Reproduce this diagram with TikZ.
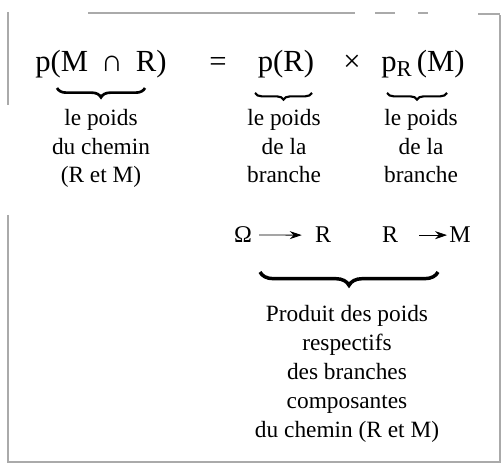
\documentclass[tikz,border=0pt]{standalone}
\usepackage{fontspec}
\setmainfont{Liberation Serif}
\usetikzlibrary{arrows.meta, positioning, decorations.pathreplacing}
\definecolor{framegray}{RGB}{170,170,170}

\begin{document}
\begin{tikzpicture}[
  x=0.75pt, y=-0.75pt,
  formula/.style={font=\fontsize{23}{27}\selectfont, inner sep=0pt, anchor=base},
  caption/.style={font=\fontsize{17.5}{21.7}\selectfont, align=center, inner sep=0pt, anchor=base},
  letter/.style={font=\fontsize{18}{22}\selectfont, inner sep=0pt, anchor=base},
  weightbrace/.style={decorate, decoration={brace, mirror, amplitude=#1}, line width=2pt},
  branch/.style={-{Stealth[length=9pt, width=6pt]}, line width=0.6pt},
  frame/.style={framegray, line width=0.8pt},
]
  \useasboundingbox (0,0) rectangle (503,466);

  % Frame
  \draw[frame] (8,12) -- (8,105);
  \draw[frame] (8,215) -- (8,462) -- (500,462) -- (500,15);
  \draw[frame] (88,13) -- (355,13);
  \draw[frame] (375,13) -- (395,13);
  \draw[frame] (418,13) -- (428,13);
  \draw[frame] (478,14) -- (500,14);

  % Formula
  \node[formula] (inter) at (101,72) {p(M \,∩\, R)};
  \node[formula] (eq) at (218,72) {=};
  \node[formula] (pr) at (286,72) {p(R)};
  \node[formula] (times) at (352,72) {×};
  \node[formula] (prm) at (423,72) {p\raisebox{-0.35ex}{\fontsize{17}{17}\selectfont R}\,(M)};

  % Braces under the terms
  \coordinate (b1l) at (57,88);  \coordinate (b1r) at (145,88);
  \coordinate (b2l) at (255,93); \coordinate (b2r) at (312,93);
  \coordinate (b3l) at (387,93); \coordinate (b3r) at (447,93);
  \draw[weightbrace=7pt] (b1l) -- (b1r);
  \draw[weightbrace=5pt, line width=1.6pt] (b2l) -- (b2r);
  \draw[weightbrace=5pt, line width=1.6pt] (b3l) -- (b3r);

  % Captions (base = last line)
  \node[caption] (cap1) at (101,183) {le poids\\du chemin\\(R et M)};
  \node[caption] (cap2) at (284,183) {le poids\\de la\\branche};
  \node[caption] (cap3) at (421,183) {le poids\\de la\\branche};

  % Branches
  \node[letter] (omega) at (243,243) {Ω};
  \node[letter] (r1) at (323,243) {R};
  \node[letter] (r2) at (390,243) {R};
  \node[letter] (m) at (460,243) {M};
  \draw[branch, shorten <=7pt*0.75, shorten >=13pt*0.75] (omega.east) -- (r1.west);
  \draw[branch, shorten <=21pt*0.75, shorten >=2pt*0.75] (r2.east) -- (m.west);

  % Product brace
  \coordinate (pbl) at (260,272); \coordinate (pbr) at (438,272);
  \draw[weightbrace=10pt, line width=2.6pt] (pbl) -- (pbr);
  \node[caption] (prod) at (347,437) {Produit des poids\\respectifs\\des branches\\composantes\\du chemin (R et M)};
\end{tikzpicture}
\end{document}
